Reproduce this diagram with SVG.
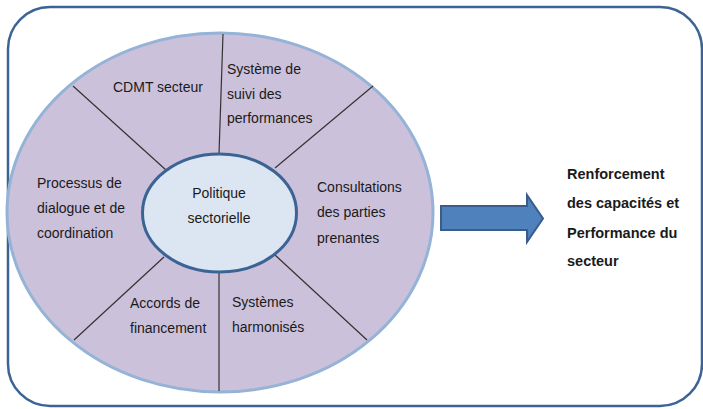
<svg xmlns="http://www.w3.org/2000/svg" width="703" height="409" viewBox="0 0 703 409">
<style>
text{font-family:"Liberation Sans",Arial,sans-serif;font-size:14px;fill:#1a1a1a}
.b{font-weight:bold;font-size:14.5px}
.c{text-anchor:middle}
.div{stroke:#333;stroke-width:1.2;fill:none}
</style>
<rect x="8" y="7" width="694" height="399" rx="42" ry="42" fill="#fff" stroke="#3b6494" stroke-width="2.5"/>
<g id="outer">
<ellipse cx="220" cy="212.5" rx="213" ry="179.5" fill="#ccc1da" stroke="#95b3d7" stroke-width="3"/>
</g>
<g id="connectors">
<line class="div" x1="223" y1="34" x2="219" y2="154"/>
<line class="div" x1="219" y1="273" x2="219" y2="391"/>
<line class="div" x1="73" y1="86" x2="166" y2="170"/>
<line class="div" x1="373" y1="86" x2="275" y2="168"/>
<line class="div" x1="164" y1="257" x2="74" y2="340"/>
<line class="div" x1="275" y1="255" x2="367" y2="340"/>
<path d="M441,206 H527 V195 L543,218.5 L527,242 V230 H441 Z" fill="#4f81bd" stroke="#385d8a" stroke-width="2"/>
</g>
<g id="center">
<ellipse cx="219.5" cy="213" rx="77" ry="59" fill="#dce6f2" stroke="#3b6494" stroke-width="3"/>
<text class="c" x="219" y="198">Politique</text>
<text class="c" x="219" y="223">sectorielle</text>
</g>
<g id="cdmt"><text x="113" y="92">CDMT secteur</text></g>
<g id="suivi">
<text x="227" y="74">Système de</text>
<text x="227" y="99">suivi des</text>
<text x="227" y="123">performances</text>
</g>
<g id="consultations">
<text x="317" y="192">Consultations</text>
<text x="317" y="217">des parties</text>
<text x="317" y="243">prenantes</text>
</g>
<g id="systemes">
<text x="232" y="307">Systèmes</text>
<text x="232" y="332">harmonisés</text>
</g>
<g id="accords">
<text x="130" y="308">Accords de</text>
<text x="130" y="333">financement</text>
</g>
<g id="processus">
<text x="37" y="188">Processus de</text>
<text x="37" y="213">dialogue et de</text>
<text x="37" y="238">coordination</text>
</g>
<g id="result">
<text class="b" x="567" y="179">Renforcement</text>
<text class="b" x="567" y="208">des capacités et</text>
<text class="b" x="567" y="238">Performance du</text>
<text class="b" x="567" y="266">secteur</text>
</g>
</svg>
